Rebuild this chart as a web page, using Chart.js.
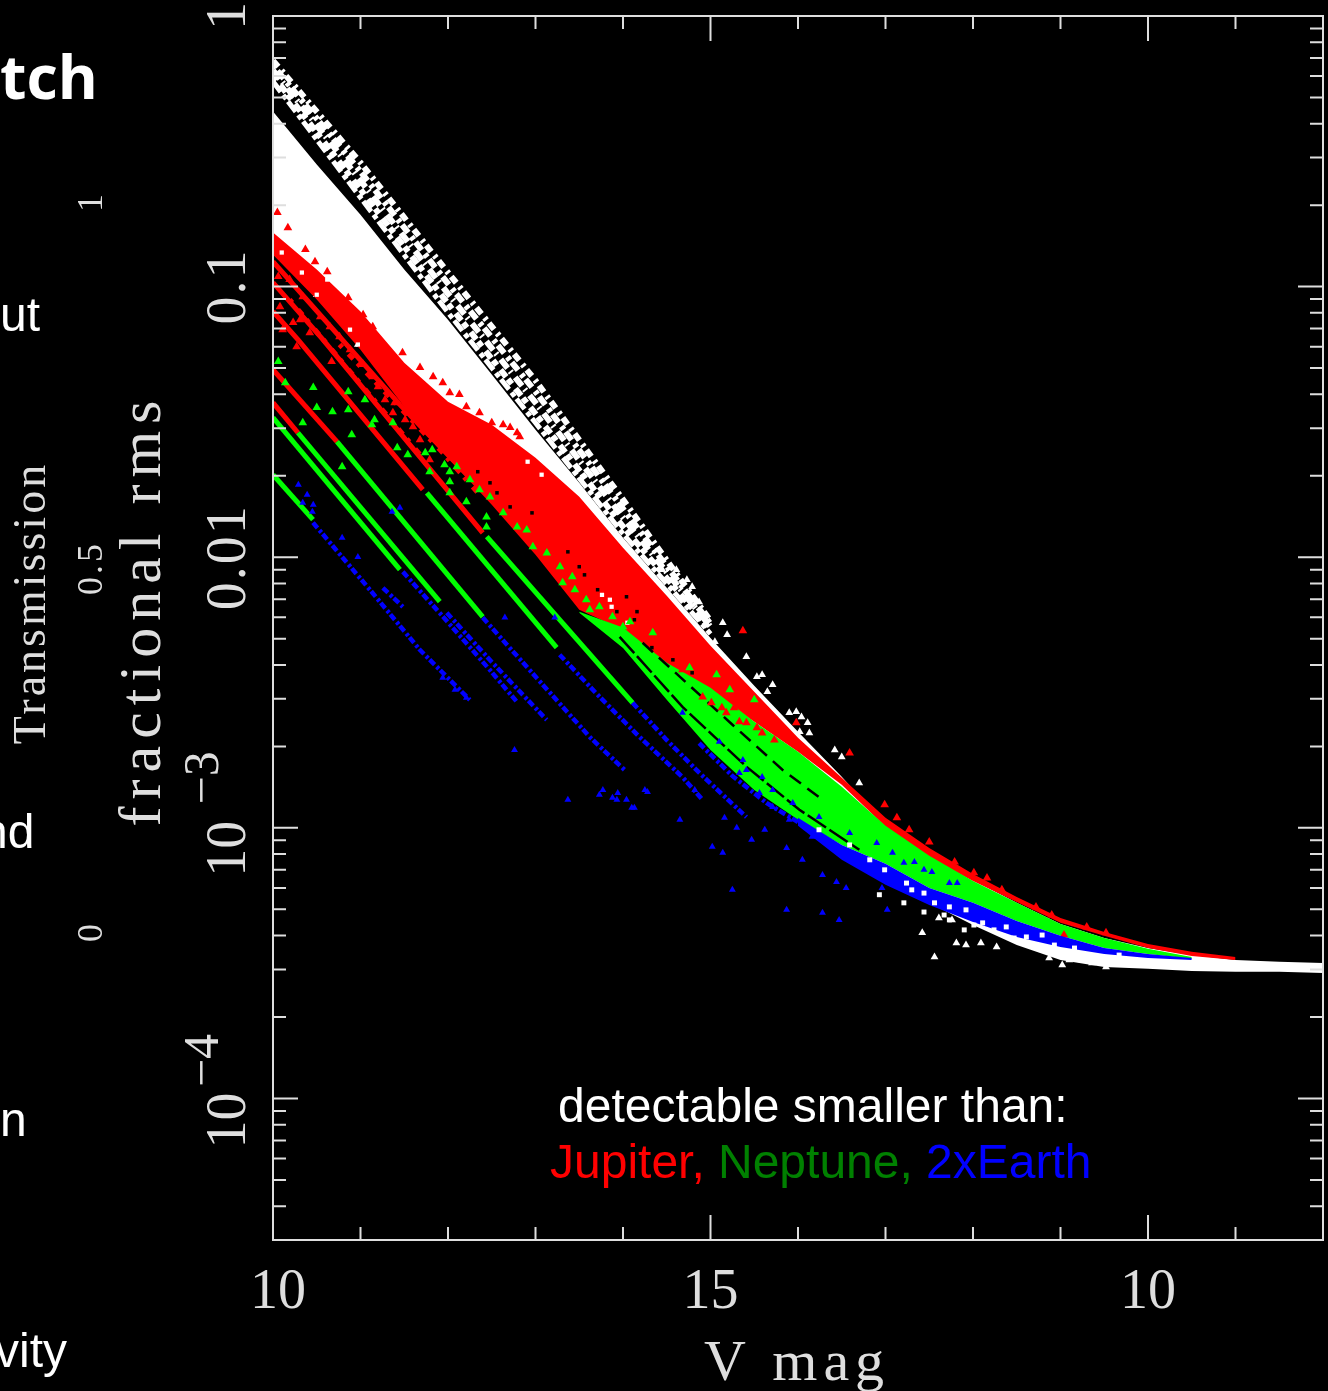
<!DOCTYPE html>
<html>
<head>
<meta charset="utf-8">
<title>fractional rms vs V mag</title>
<script src="https://cdn.jsdelivr.net/npm/chart.js@4/dist/chart.umd.min.js"></script>
<style>
  html, body { margin: 0; padding: 0; background: #000; overflow: hidden; }
  canvas { display: block; }
</style>
</head>
<body>
<canvas id="chart" width="1328" height="1391"></canvas>
<script>
// Values: V magnitude, and log10 of the fractional rms.
const bandMags = [10, 10.5, 11, 11.5, 12, 12.5, 13, 13.5, 14, 14.5, 15, 15.5, 16, 16.5, 17, 17.5, 18, 18.5, 19, 19.5, 20, 20.5, 21, 21.5, 22];
const whiteTop = [-0.353, -0.549, -0.734, -0.937, -1.122, -1.325, -1.529, -1.725, -1.928, -2.113, -2.298, -2.475, -2.645, -2.811, -2.989, -3.100, -3.192, -3.277, -3.355, -3.407, -3.444, -3.470, -3.488, -3.495, -3.499];
const whiteBottom = [-0.845, -0.993, -1.159, -1.344, -1.492, -1.584, -1.695, -1.843, -2.009, -2.342, -2.601, -2.823, -2.952, -3.111, -3.203, -3.277, -3.359, -3.433, -3.488, -3.514, -3.521, -3.529, -3.532, -3.532, -3.536];
const redTop = [-0.800, -0.937, -1.092, -1.281, -1.425, -1.510, -1.632, -1.776, -1.965, -2.142, -2.327, -2.497, -2.667, -2.815, -2.963, -3.074, -3.170, -3.255, -3.333, -3.385, -3.429, -3.458, -3.477];
const redBottom = [-0.882, -1.048, -1.233, -1.444, -1.632, -1.806, -1.991, -2.194, -2.268, -2.408, -2.497, -2.608, -2.719, -2.841, -2.996, -3.111, -3.196, -3.274, -3.351, -3.399, -3.444, -3.473, -3.488];
const greenTop = [-2.201, -2.260, -2.390, -2.482, -2.608, -2.719, -2.848, -2.992, -3.103, -3.196, -3.277, -3.355, -3.407, -3.447, -3.477];
const greenBottom = [-2.205, -2.335, -2.527, -2.712, -2.860, -2.970, -3.063, -3.133, -3.222, -3.277, -3.344, -3.399, -3.444, -3.466, -3.484];
const blueTop = [-2.963, -3.063, -3.133, -3.222, -3.277, -3.344, -3.399, -3.444, -3.466, -3.481];
const blueBottom = [-2.992, -3.118, -3.210, -3.285, -3.348, -3.403, -3.440, -3.466, -3.481, -3.488];

// sparse white strip above the main band
const sparseMags = [10, 11, 12, 13, 14, 15];
const sparse1 = [-0.165, -0.542, -0.948, -1.347, -1.787, -2.235];
const sparse2 = [-0.183, -0.575, -0.989, -1.388, -1.821, -2.246];
const sparse3 = [-0.201, -0.608, -1.026, -1.429, -1.854, -2.257];
const sparse4 = [-0.220, -0.641, -1.063, -1.470, -1.887, -2.268];
const sparse5 = [-0.242, -0.671, -1.096, -1.503, -1.913, -2.283];

// narrow tracks, [mag, log rms]
const redTracks = [
  [[10, -0.908], [11.45, -1.436], [12.25, -1.706]],
  [[10, -0.985], [10.571, -1.196], [12.397, -1.910]],
  [[10, -1.092], [10.285, -1.196], [11.712, -1.750]],
  [[10, -1.307], [10.731, -1.573]],
  [[10, -1.429], [10.285, -1.540]]
];
const redBrokenTracks = [
  [[10.19, -1.048], [11.68, -1.621]],
  [[10.76, -1.214], [11.91, -1.603], [12.36, -1.769]]
];
const greenTracks = [
  [[10, -1.695], [10.457, -1.861]],
  [[10, -1.484], [11.45, -2.046]],
  [[10.285, -1.540], [11.906, -2.164]],
  [[10.731, -1.573], [12.397, -2.220]],
  [[11.758, -1.762], [13.242, -2.334]],
  [[12.443, -1.924], [14.11, -2.538]]
];
const blueTracks = [
  [[10.457, -1.872], [11.107, -2.120], [11.678, -2.342], [12.249, -2.527]],
  [[11.256, -2.113], [11.484, -2.183]],
  [[11.484, -2.054], [11.872, -2.194], [12.477, -2.416], [12.797, -2.538]],
  [[11.986, -2.205], [12.477, -2.379], [13.128, -2.601]],
  [[12.397, -2.223], [12.9, -2.405], [13.619, -2.664], [14.018, -2.786]],
  [[13.276, -2.360], [13.733, -2.516], [14.189, -2.664], [14.68, -2.812], [14.909, -2.896]],
  [[14.11, -2.538], [14.498, -2.675], [14.874, -2.797], [15.411, -2.960]],
  [[14.87, -2.687], [15.25, -2.808], [15.64, -2.908], [16.02, -2.982], [16.39, -3.056]]
];
const gapTracks = [
  [[13.961, -2.294], [14.68, -2.553], [15.411, -2.774], [16.016, -2.933], [16.701, -3.081]],
  [[14.224, -2.316], [15.251, -2.619], [15.822, -2.785], [16.279, -2.896]]
];

// scattered points, [mag, log rms]
const whiteDots = [
  [10.10, -0.874], [10.33, -0.948], [10.62, -0.974], [10.50, -1.030], [10.88, -1.159], [10.97, -1.214],
  [13.07, -1.695], [12.91, -1.647], [13.76, -2.139], [13.85, -2.157], [13.87, -2.183], [14.05, -2.242],
  [14.45, -2.046], [14.61, -2.046], [14.73, -2.083], [14.79, -2.109], [14.87, -2.165], [15.14, -2.242],
  [15.19, -2.286], [15.05, -2.312], [15.41, -2.368], [15.53, -2.442], [15.59, -2.434], [15.71, -2.471],
  [15.65, -2.497], [15.90, -2.575], [15.98, -2.571], [16.04, -2.590], [16.11, -2.612], [16.02, -2.645],
  [16.13, -2.649], [16.42, -2.712], [16.50, -2.738], [16.70, -2.834],
  [17.42, -3.388], [17.56, -3.477], [17.81, -3.425], [17.92, -3.433], [18.09, -3.425], [18.27, -3.440],
  [17.61, -3.333], [17.76, -3.340], [18.87, -3.481], [19.02, -3.507], [19.10, -3.488], [19.24, -3.488],
  [19.36, -3.499], [19.52, -3.514]
];
const whiteOnBlue = [
  [17.24, -3.204], [17.44, -3.241], [17.56, -3.277], [17.73, -3.292], [17.92, -3.303], [18.11, -3.351],
  [18.38, -3.366], [18.61, -3.403], [18.79, -3.396], [16.82, -3.118], [16.99, -3.155], [16.59, -3.063], [16.24, -3.007],
  [17.30, -3.229], [17.67, -3.322], [18.01, -3.359], [18.24, -3.377], [18.47, -3.407], [18.93, -3.433],
  [19.16, -3.444], [19.67, -3.470], [16.93, -3.247], [17.21, -3.277], [17.44, -3.311], [17.73, -3.340], [17.90, -3.377]
];
const redEdgeDots = [
  [10.05, -0.726], [10.17, -0.782], [10.37, -0.863], [10.48, -0.908], [10.62, -0.945], [10.86, -1.041],
  [11.03, -1.104], [11.14, -1.148], [11.48, -1.244], [11.68, -1.299], [11.83, -1.333], [11.94, -1.355],
  [12.02, -1.392], [12.13, -1.399], [12.21, -1.444], [12.36, -1.466], [12.50, -1.503], [12.71, -1.521],
  [12.79, -1.540], [12.63, -1.510], [12.82, -1.555], [15.37, -2.272], [15.98, -2.612], [16.59, -2.723],
  [16.99, -2.915], [17.13, -2.963], [17.27, -3.007], [17.50, -3.052], [17.79, -3.126], [18.01, -3.166],
  [18.16, -3.185], [18.33, -3.229], [18.72, -3.292], [18.90, -3.322], [19.30, -3.366], [19.52, -3.388]
];
const redSpeckle = [
  [10.06, -0.963], [10.19, -0.974], [10.34, -1.037], [10.54, -1.111], [10.65, -1.148], [10.42, -1.170],
  [10.76, -1.185], [10.88, -1.233], [10.67, -1.277], [11.03, -1.288], [11.14, -1.333], [11.20, -1.370],
  [11.39, -1.429], [11.37, -1.466], [11.60, -1.518], [10.08, -1.074], [10.11, -1.159], [10.27, -1.222],
  [10.23, -1.133], [10.31, -1.122], [11.28, -1.418], [11.51, -1.492], [11.68, -1.566], [11.79, -1.640]
];
const redOnGreen = [
  [14.68, -2.416], [14.91, -2.516], [15.01, -2.538], [15.13, -2.556], [15.18, -2.575], [15.27, -2.556],
  [15.33, -2.608], [15.41, -2.612], [15.53, -2.630], [15.59, -2.649], [15.73, -2.675], [18.64, -3.396], [19.04, -3.396]
];
const greenDots = [
  [10.06, -1.277], [10.14, -1.355], [10.46, -1.373], [10.50, -1.447], [10.86, -1.388], [10.68, -1.462],
  [10.86, -1.455], [11.05, -1.418], [10.34, -1.503], [10.90, -1.547], [11.16, -1.492], [11.13, -1.510],
  [11.37, -1.503], [11.42, -1.595], [11.54, -1.621], [11.74, -1.614], [11.82, -1.603], [11.79, -1.684],
  [11.96, -1.658], [12.10, -1.666], [12.02, -1.684], [12.02, -1.721], [10.79, -1.666], [12.02, -1.762],
  [12.21, -1.795], [12.25, -1.714], [12.36, -1.751], [12.48, -1.777], [12.63, -1.836], [12.44, -1.851],
  [12.44, -1.888], [12.79, -1.888], [12.90, -1.899], [12.97, -1.961], [13.13, -1.984], [13.28, -2.035],
  [13.42, -2.072], [13.31, -2.094], [13.58, -2.157], [13.73, -2.183], [13.88, -2.220], [14.00, -2.257],
  [14.34, -2.279], [13.45, -2.120], [13.62, -2.194], [15.07, -2.434], [14.08, -2.238], [14.76, -2.408],
  [15.22, -2.490], [15.50, -2.527]
];
const blackDots = [
  [12.34, -1.684], [12.48, -1.725], [12.56, -1.762], [12.71, -1.814], [12.96, -1.836], [13.37, -1.980],
  [13.50, -2.035], [13.56, -2.065], [13.71, -2.120], [14.04, -2.146], [13.93, -2.201], [14.16, -2.201],
  [14.13, -2.231], [14.33, -2.334], [14.57, -2.379], [14.79, -2.427]
];
const blueDots = [
  [15.25, -3.229], [15.87, -3.303], [16.28, -3.314], [16.47, -3.340], [17.02, -3.303], [16.28, -3.174],
  [16.44, -3.200], [16.55, -3.222], [16.96, -3.222], [14.65, -2.970], [15.02, -3.070], [15.14, -3.092],
  [15.87, -3.074], [16.05, -3.118], [15.47, -3.044], [15.62, -3.007], [15.30, -3.000], [15.16, -2.963],
  [14.82, -2.860], [14.28, -2.867], [14.13, -2.926], [14.04, -2.896], [13.94, -2.871], [13.77, -2.860],
  [13.88, -2.889], [10.29, -1.732], [10.39, -1.769], [10.34, -1.799], [10.46, -1.806], [10.45, -1.832],
  [10.97, -1.999], [10.79, -1.928], [12.65, -2.223], [11.45, -1.817], [11.36, -1.832], [13.22, -2.223],
  [12.21, -2.519], [12.08, -2.490], [11.94, -2.445], [12.76, -2.712], [13.37, -2.896], [13.73, -2.878],
  [13.93, -2.896], [14.10, -2.926], [14.25, -2.860],
  [16.90, -3.056], [17.08, -3.092], [17.21, -3.129], [17.33, -3.126], [17.44, -3.155], [17.53, -3.163],
  [17.73, -3.204], [17.82, -3.204], [14.68, -2.575], [15.10, -2.682], [15.37, -2.749], [15.41, -2.786],
  [15.59, -2.812], [15.71, -2.860], [15.94, -2.908], [16.59, -3.019], [16.24, -2.960],
  [15.33, -2.797], [15.56, -2.871], [15.71, -2.923], [15.90, -2.970], [16.16, -3.033], [16.39, -3.070]
];

// axis ticks
const xTickMags = [10, 11, 12, 13, 14, 15, 16, 17, 18, 19, 20, 21, 22];
const xMajorMags = [10, 15, 20];
const xMajorLabels = ['10', '15', '10'];
const yDecades = [1, 0.1, 0.01, 0.001, 0.0001, 0.00001];
const yMinorSteps = [2, 3, 4, 5, 6, 7, 8, 9];

const WHITE = '#ffffff', RED = '#ff0000', GREEN = '#00ff00', BLUE = '#0000ff', INK = '#dedede';

const fromDex = (mags, dex) => dex.map((d, i) => ({ x: mags[i], y: Math.pow(10, d) }));
const fromPairs = pairs => pairs.map(p => ({ x: p[0], y: Math.pow(10, p[1]) }));

const datasets = [];

// two boundary lines and a fill between them
function addBand(mags, top, bottom, color) {
  datasets.push({ type: 'line', data: fromDex(mags, bottom), borderWidth: 0, pointRadius: 0, fill: false });
  datasets.push({ type: 'line', data: fromDex(mags, top), borderWidth: 0, pointRadius: 0, backgroundColor: color, fill: '-1' });
}
function addTrack(points, color, width, dash) {
  datasets.push({ type: 'line', data: points, borderColor: color, borderWidth: width, borderDash: dash || [], pointRadius: 0, fill: false });
}
function addDots(pairs, color, radius, style) {
  datasets.push({ type: 'scatter', data: fromPairs(pairs), backgroundColor: color, borderWidth: 0, pointRadius: radius, pointStyle: style });
}

addTrack(fromDex(sparseMags, sparse1), WHITE, 6, [8, 5, 3, 4]);
addTrack(fromDex(sparseMags, sparse2), WHITE, 6, [4, 3, 10, 5]);
addTrack(fromDex(sparseMags, sparse3), WHITE, 6, [11, 4, 2, 6]);
addTrack(fromDex(sparseMags, sparse4), WHITE, 6, [6, 6, 9, 3]);
addTrack(fromDex(sparseMags, sparse5), WHITE, 5, [13, 4, 5, 3]);
addBand(bandMags, whiteTop, whiteBottom, WHITE);
addDots(whiteDots, WHITE, 4.5, 'triangle');
addBand(bandMags.slice(0, 23), redTop, redBottom, RED);
addDots(whiteDots.slice(0, 12), WHITE, 3, 'rect');
redTracks.forEach(t => addTrack(fromPairs(t), RED, 5));
redBrokenTracks.forEach(t => addTrack(fromPairs(t), RED, 5, [4, 9, 7, 6]));
addDots(redEdgeDots, RED, 5, 'triangle');
addDots(redSpeckle, RED, 5, 'triangle');
addDots(blackDots, '#000000', 2.5, 'rect');
addBand(bandMags.slice(7, 22), greenTop, greenBottom, GREEN);
gapTracks.forEach((t, i) => addTrack(fromPairs(t), '#000000', 2.5, i ? [14, 8] : [22, 4]));
greenTracks.forEach(t => addTrack(fromPairs(t), GREEN, 5));
addDots(greenDots, GREEN, 5, 'triangle');
addDots(redOnGreen, RED, 5, 'triangle');
addBand(bandMags.slice(12, 22), blueTop, blueBottom, BLUE);
blueTracks.forEach(t => addTrack(fromPairs(t), BLUE, 4.5, [7, 3, 3, 2]));
addDots(blueDots, BLUE, 4, 'triangle');
addDots(whiteOnBlue, WHITE, 3.5, 'rect');
datasets.forEach((d, i) => { d.order = -i; });

function drawText(ctx, text, x, y, font, color, rotate, spacing, align) {
  ctx.save();
  ctx.translate(x, y);
  if (rotate) ctx.rotate(-Math.PI / 2);
  ctx.font = font;
  ctx.fillStyle = color;
  ctx.textAlign = align || 'center';
  ctx.textBaseline = 'alphabetic';
  ctx.letterSpacing = (spacing || 0) + 'px';
  ctx.fillText(text, 0, 0);
  ctx.restore();
}

// PGPLOT style box: ticks inside on all four sides, drawn over the points
const boxPlugin = {
  id: 'boxTicks',
  afterDatasetsDraw(chart) {
    const { ctx, chartArea: a, scales } = chart;
    ctx.save();
    ctx.strokeStyle = INK;
    ctx.lineWidth = 2;
    ctx.strokeRect(a.left, a.top, a.right - a.left, a.bottom - a.top);
    ctx.beginPath();
    xTickMags.forEach(m => {
      const px = scales.x.getPixelForValue(m);
      const len = xMajorMags.includes(m) ? 25 : 13;
      ctx.moveTo(px, a.bottom); ctx.lineTo(px, a.bottom - len);
      ctx.moveTo(px, a.top); ctx.lineTo(px, a.top + len);
    });
    yDecades.forEach(dec => {
      const major = scales.y.getPixelForValue(dec);
      if (dec >= 3e-5) {
        ctx.moveTo(a.left, major); ctx.lineTo(a.left + 25, major);
        ctx.moveTo(a.right, major); ctx.lineTo(a.right - 25, major);
      }
      yMinorSteps.forEach(s => {
        if (dec * s > 1 || dec * s < 3e-5) return;
        const py = scales.y.getPixelForValue(dec * s);
        ctx.moveTo(a.left, py); ctx.lineTo(a.left + 13, py);
        ctx.moveTo(a.right, py); ctx.lineTo(a.right - 13, py);
      });
    });
    ctx.stroke();
    ctx.restore();
  },
  afterDraw(chart) {
    const { ctx, scales } = chart;
    const serif = '"Liberation Serif", serif';
    const sans = '"Liberation Sans", sans-serif';
    const y = v => scales.y.getPixelForValue(v);

    // x axis
    xMajorMags.forEach((m, i) => {
      drawText(ctx, xMajorLabels[i], scales.x.getPixelForValue(m) + (i === 0 ? 5 : 0), 1308, '400 56px ' + serif, INK);
    });
    drawText(ctx, 'V mag', 797, 1380, '400 58px ' + serif, INK, false, 6);

    // y axis
    drawText(ctx, '1', 245, y(1), '400 56px ' + serif, INK, true);
    drawText(ctx, '0.1', 245, y(0.1), '400 56px ' + serif, INK, true, 2);
    drawText(ctx, '0.01', 245, y(0.01), '400 56px ' + serif, INK, true, 2);
    drawText(ctx, '10', 245, y(0.001) + 21, '400 56px ' + serif, INK, true);
    drawText(ctx, '−3', 218, y(0.001) - 50, '400 50px ' + serif, INK, true);
    drawText(ctx, '10', 245, y(0.0001) + 22, '400 56px ' + serif, INK, true);
    drawText(ctx, '−4', 218, y(0.0001) - 38, '400 50px ' + serif, INK, true);
    drawText(ctx, 'fractional rms', 160, 610, '400 60px ' + serif, INK, true, 7);

    // the second, cropped plot and the slide text on the left
    drawText(ctx, 'Transmission', 45, 603, '400 46px ' + serif, INK, true, 3);
    drawText(ctx, '1', 102, 203, '400 36px ' + serif, INK, true);
    drawText(ctx, '0.5', 102, 568, '400 36px ' + serif, INK, true, 3);
    drawText(ctx, '0', 102, 933, '400 36px ' + serif, INK, true);
    drawText(ctx, 'tch', 0, 99, '700 61px "Open Sans", sans-serif', WHITE, false, 0, 'left');
    drawText(ctx, 'ut', 0, 331, '400 48px ' + sans, WHITE, false, 0, 'left');
    drawText(ctx, 'nd', -19, 848, '400 48px ' + sans, WHITE, false, 0, 'left');
    drawText(ctx, 'n', 0, 1136, '400 48px ' + sans, WHITE, false, 0, 'left');
    drawText(ctx, 'vity', -5, 1367, '400 48px ' + sans, WHITE, false, 0, 'left');

    // annotation
    drawText(ctx, 'detectable smaller than:', 558, 1122, '400 48px ' + sans, WHITE, false, 0, 'left');
    drawText(ctx, 'Jupiter,', 550, 1178, '400 48px ' + sans, RED, false, 0, 'left');
    drawText(ctx, 'Neptune,', 718, 1178, '400 48px ' + sans, '#008000', false, 0, 'left');
    drawText(ctx, '2xEarth', 926, 1178, '400 48px ' + sans, BLUE, false, 0, 'left');
  }
};

new Chart(document.getElementById('chart'), {
  data: { datasets },
  plugins: [boxPlugin],
  options: {
    responsive: false,
    animation: false,
    events: [],
    layout: { padding: { top: 16, right: 4, left: 0, bottom: 0 } },
    plugins: { legend: { display: false }, tooltip: { enabled: false } },
    elements: { line: { tension: 0 } },
    scales: {
      x: {
        type: 'linear', min: 10, max: 22,
        grid: { display: false }, border: { display: false }, ticks: { display: false },
        afterFit: s => { s.height = 151; }
      },
      y: {
        type: 'logarithmic', min: 3e-5, max: 1,
        grid: { display: false }, border: { display: false }, ticks: { display: false },
        afterFit: s => { s.width = 273; }
      }
    }
  }
});
</script>
</body>
</html>
